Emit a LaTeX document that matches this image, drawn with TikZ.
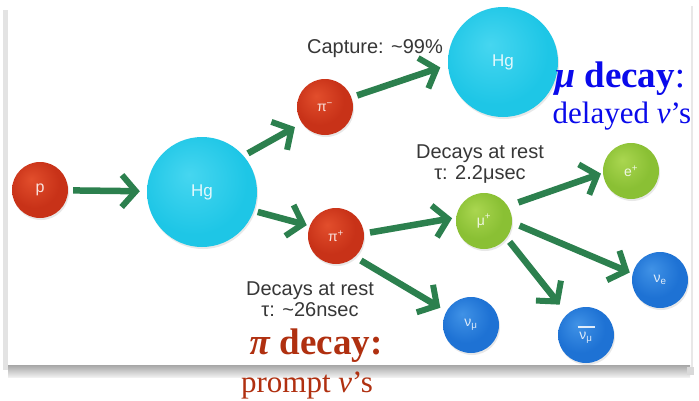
\documentclass[tikz,border=0pt]{standalone}
\usepackage{fontspec}
\setmainfont{Liberation Serif}
\setsansfont{Liberation Sans}
\usetikzlibrary{arrows.meta,shadows}

% particle colours
\definecolor{redA}{RGB}{226,78,44}
\definecolor{redB}{RGB}{200,50,24}
\definecolor{redC}{RGB}{150,30,12}
\definecolor{cyanA}{RGB}{70,214,240}
\definecolor{cyanB}{RGB}{30,198,230}
\definecolor{cyanC}{RGB}{18,168,206}
\definecolor{greenA}{RGB}{170,214,80}
\definecolor{greenB}{RGB}{138,192,52}
\definecolor{greenC}{RGB}{104,156,30}
\definecolor{blueA}{RGB}{64,146,230}
\definecolor{blueB}{RGB}{30,114,212}
\definecolor{blueC}{RGB}{18,82,170}
\definecolor{flowgreen}{RGB}{44,128,78}
\definecolor{labelgray}{RGB}{55,55,55}
\definecolor{pidecay}{RGB}{176,48,16}
\definecolor{mudecay}{RGB}{10,10,235}

\pgfdeclareradialshading{redball}{\pgfpoint{-8bp}{10bp}}{color(0bp)=(redA); color(22bp)=(redB); color(44bp)=(redB); color(56bp)=(redC)}
\pgfdeclareradialshading{cyanball}{\pgfpoint{-6bp}{8bp}}{color(0bp)=(cyanA); color(24bp)=(cyanB); color(46bp)=(cyanB); color(56bp)=(cyanC)}
\pgfdeclareradialshading{greenball}{\pgfpoint{-8bp}{10bp}}{color(0bp)=(greenA); color(22bp)=(greenB); color(44bp)=(greenB); color(56bp)=(greenC)}
\pgfdeclareradialshading{blueball}{\pgfpoint{-8bp}{10bp}}{color(0bp)=(blueA); color(22bp)=(blueB); color(44bp)=(blueB); color(56bp)=(blueC)}

\tikzset{
  ball/.style={circle, inner sep=0pt, minimum size=56pt, text=white, text opacity=0.85,
    font=\sffamily\fontsize{14}{14}\selectfont,
    drop shadow={shadow xshift=1pt, shadow yshift=-2pt, opacity=0.18}},
  hadron/.style={ball, shading=redball},
  target/.style={ball, shading=cyanball, minimum size=110pt,
    font=\sffamily\fontsize{17}{17}\selectfont},
  lepton/.style={ball, shading=greenball},
  neutrino/.style={ball, shading=blueball},
  flow/.style={draw=flowgreen, line width=6.5pt,
    -{Straight Barb[length=14pt, width=32pt, line width=6pt]}},
  note/.style={text=labelgray, font=\sffamily\fontsize{20}{21}\selectfont,
    align=center, inner sep=0pt},
  headline/.style={font=\fontsize{31}{31}\selectfont, inner sep=0pt, anchor=base},
  title/.style={headline, font=\fontsize{37}{37}\selectfont}
}

\begin{document}
\begin{tikzpicture}[x=1pt, y=-1pt]
  \useasboundingbox (0,0) rectangle (699,400);
  \fill[white] (0,0) rectangle (699,400);

  % slide frame with its shadow
  \fill[gray!22] (3,10) rectangle (8,370);
  \fill[gray!18] (691,6) rectangle (693,368);
  \shade[top color=gray!70, bottom color=gray!12] (8,365) rectangle (690,377);
  \fill[gray!30] (687,367) rectangle (694,375);

  % particles
  \node[hadron, font=\sffamily\fontsize{16}{16}\selectfont] (p) at (40,190) {p};
  \node[target] (hg) at (202,192) {Hg};
  \node[hadron] (pim) at (325,107) {π\textsuperscript{−}};
  \node[target] (hgcap) at (503,62) {Hg};
  \node[hadron] (pip) at (336,236) {π\textsuperscript{+}};
  \node[lepton] (mu) at (484,221) {μ\textsuperscript{+}};
  \node[lepton] (pos) at (631,171) {e\textsuperscript{+}};
  \node[neutrino] (nue) at (660,280) {ν\textsubscript{e}};
  \node[neutrino, align=center] (numubar) at (586,335)
    {\rule[3pt]{17pt}{1.3pt}\\[-5pt]ν\textsubscript{μ}};
  \node[neutrino] (numu) at (471,325) {ν\textsubscript{μ}};

  % reaction arrows
  \draw[flow, shorten <=5pt, shorten >=7pt] (p) -- (hg);
  \draw[flow, shorten <=5pt, shorten >=8pt] (hg.41) -- (pim.215);
  \draw[flow, shorten <=4pt, shorten >=3pt] (hg.340) -- (pip.159);
  \draw[flow, shorten <=6pt, shorten >=8pt] (pim.20) -- (hgcap.183);
  \draw[flow, shorten <=6pt, shorten >=4pt] (pip.5) -- (mu.173);
  \draw[flow, shorten <=7pt, shorten >=7pt] (pip.312) -- (numu.151);
  \draw[flow, shorten <=11pt, shorten >=2pt] (mu.32) -- (pos.184);
  \draw[flow, shorten <=8pt, shorten >=3pt] (mu.357) -- (nue.167);
  \draw[flow, shorten <=5pt, shorten >=12pt] (mu.323) -- (numubar.132);

  % notes
  \node[note, anchor=base] (capture) at (375,53) {Capture: \textasciitilde99\%};
  \node[note, anchor=north] (murest) at (480,145) {Decays at rest\\τ: 2.2μsec};
  \node[note, anchor=north] (pirest) at (310,282) {Decays at rest\\τ: \textasciitilde26nsec};

  % headlines
  \node[title, text=mudecay] (mutitle) at (620,87)
    {\textbf{\textit{μ} decay}:};
  \node[headline, text=mudecay] (mudelay) at (622,123)
    {delayed \textit{ν}’s};
  \node[title, text=pidecay] (pititle) at (316,354)
    {\textbf{\textit{π} decay:}};
  \node[headline, text=pidecay] (piprompt) at (307,392)
    {prompt \textit{ν}’s};
\end{tikzpicture}
\end{document}
